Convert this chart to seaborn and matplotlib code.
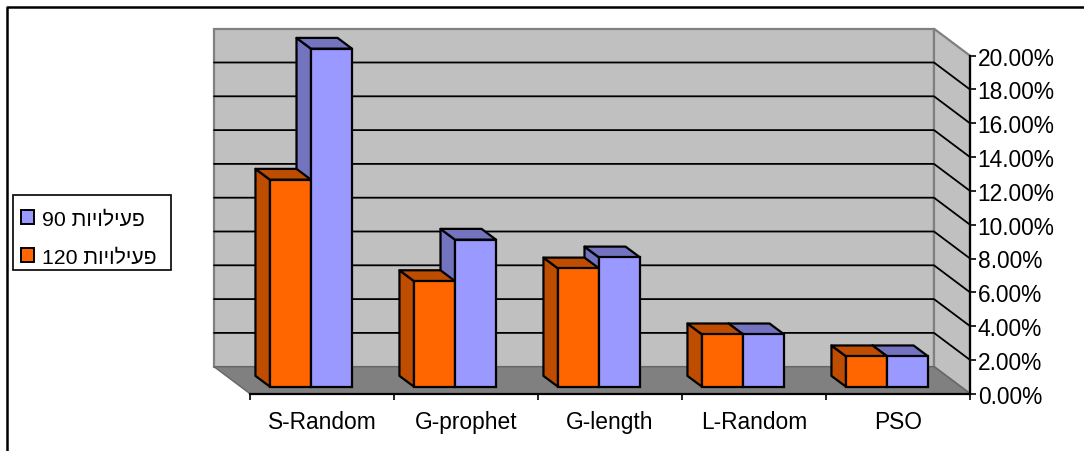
import matplotlib
matplotlib.use("Agg")
import matplotlib.pyplot as plt
from matplotlib.lines import Line2D
from matplotlib.patches import Patch, Polygon, Rectangle
from matplotlib.ticker import FixedLocator, PercentFormatter
import numpy as np
import pandas as pd
import seaborn as sns

# Chart data
algorithms = ["S-Random", "G-prophet", "G-length", "L-Random", "PSO"]
activities_120 = [12.25, 6.25, 7.0, 3.1, 1.8]
activities_90 = [20.0, 8.7, 7.65, 3.1, 1.8]
y_ticks = list(range(0, 21, 2))

# Matplotlib shapes text left to right, so the Hebrew word is stored reversed
word = "פעילויות"[::-1]
label_120 = f"120 {word}"
label_90 = f"90 {word}"

ORANGE, ORANGE_DARK = "#ff6600", "#bf4d00"
BLUE, BLUE_DARK = "#9999ff", "#7373bf"
WALL, FLOOR, EDGE = "#c0c0c0", "#808080", "#000000"

W, H = 1084, 452
sns.set_theme(style="white")
plt.rcParams["font.family"] = ["Liberation Sans", "DejaVu Sans"]
fig = plt.figure(figsize=(W / 100, H / 100), dpi=100, facecolor="white")


def axes_box(left, right, bottom, top):
    return [left / W, 1 - bottom / H, (right - left) / W, (bottom - top) / H]


# The front plane of the box holds the axes; the bar plane sits a little behind it
front = fig.add_axes(axes_box(250, 970, 394.7, 56.7))
bars = fig.add_axes(axes_box(239, 959, 387.7, 49.7))

PX_X = 144.0      # pixels per category
PX_Y = 16.9       # pixels per percentage point
BACK_X, BACK_Y = 36 / PX_X, 27 / PX_Y      # box depth in data units
DEPTH_X, DEPTH_Y = 14.5 / PX_X, 10.8 / PX_Y  # bar depth in data units

for ax in (front, bars):
    ax.set_xlim(-0.5, 4.5)
    ax.set_ylim(0, 20)

# Walls and floor of the box
x0, x1 = -0.5, 4.5
ymax = y_ticks[-1]
front.add_patch(Polygon([(x0 - BACK_X, BACK_Y), (x1 - BACK_X, BACK_Y),
                         (x1 - BACK_X, ymax + BACK_Y), (x0 - BACK_X, ymax + BACK_Y)],
                        closed=True, fc=WALL, ec=FLOOR, lw=1.6, clip_on=False, zorder=1))
front.add_patch(Polygon([(x1 - BACK_X, BACK_Y), (x1, 0), (x1, ymax),
                         (x1 - BACK_X, ymax + BACK_Y)],
                        closed=True, fc=WALL, ec=FLOOR, lw=1.6, clip_on=False, zorder=1))
front.add_patch(Polygon([(x0 - BACK_X, BACK_Y), (x1 - BACK_X, BACK_Y), (x1, 0), (x0, 0)],
                        closed=True, fc=FLOOR, ec="#666666", lw=1.0, clip_on=False, zorder=1.2))

# Gridlines run along the back wall and down the right wall
for t in y_ticks[1:-1]:
    front.add_line(Line2D([x0 - BACK_X, x1 - BACK_X, x1],
                          [t + BACK_Y, t + BACK_Y, t],
                          color="black", lw=1.3, clip_on=False, zorder=1.5))

# Front faces of the bars
table = pd.DataFrame({
    "algorithm": algorithms * 2,
    "value": activities_120 + activities_90,
    "series": [label_120] * len(algorithms) + [label_90] * len(algorithms),
})
sns.barplot(data=table, x="algorithm", y="value", hue="series",
            hue_order=[label_120, label_90],
            palette={label_120: ORANGE, label_90: BLUE},
            width=0.57, gap=0, saturation=1, edgecolor=EDGE, linewidth=1.6,
            legend=False, ax=bars)
bars.set_xlim(-0.5, 4.5)
bars.set_ylim(0, 20)
bars.patch.set_alpha(0)
bars.axis("off")

# Side and top faces, built from each drawn bar
n = len(algorithms)
for i, rect in enumerate(bars.patches[:2 * n]):
    is_orange = i < n
    side_c = ORANGE_DARK if is_orange else BLUE_DARK
    xl, w, h = rect.get_x(), rect.get_width(), rect.get_height()
    base_z = 3 if is_orange else 2
    rect.set_clip_on(False)
    rect.set_zorder(4)
    side = [(xl, 0), (xl - DEPTH_X, DEPTH_Y), (xl - DEPTH_X, h + DEPTH_Y), (xl, h)]
    top = [(xl, h), (xl - DEPTH_X, h + DEPTH_Y), (xl + w - DEPTH_X, h + DEPTH_Y), (xl + w, h)]
    for pts in (side, top):
        bars.add_patch(Polygon(pts, closed=True, fc=side_c, ec=EDGE, lw=1.6,
                               joinstyle="round", clip_on=False, zorder=base_z))

# Axes of the front plane
for name, spine in front.spines.items():
    spine.set_visible(name in ("bottom", "right"))
    spine.set_color("black")
    spine.set_linewidth(1.6)
    spine.set_zorder(2)
front.patch.set_alpha(0)
front.set_xticks(np.arange(n))
front.set_xticklabels(algorithms)
front.xaxis.set_minor_locator(FixedLocator(np.arange(-0.5, 5.0, 1.0)))
front.tick_params(axis="x", which="major", length=0, labelsize=16.4, pad=11.5,
                  labelcolor="black")
front.tick_params(axis="x", which="minor", length=4, width=1.2, color="black",
                  bottom=True)
front.yaxis.tick_right()
front.set_yticks(y_ticks)
front.yaxis.set_major_formatter(PercentFormatter(decimals=2))
front.tick_params(axis="y", length=4, width=1.2, color="black", labelsize=16.4,
                  pad=1.5, labelcolor="black", right=True, left=False)
front.set_xlabel("")
front.set_ylabel("")

# Legend: a plain box with the entries placed inside it
fig.add_artist(Rectangle((13 / W, 1 - 271 / H), 158 / W, 75 / H,
                         transform=fig.transFigure, fc="white", ec="black", lw=1.2))
handles = [Patch(fc=BLUE, ec=EDGE, lw=1.4, label=label_90),
           Patch(fc=ORANGE, ec=EDGE, lw=1.4, label=label_120)]
fig.legend(handles=handles, loc="upper left",
           bbox_to_anchor=(21 / W, 1 - 210.5 / H), bbox_transform=fig.transFigure,
           fontsize=15.3, frameon=False, handlelength=0.61, handleheight=0.61,
           handletextpad=0.38, labelspacing=0.9, borderpad=0, borderaxespad=0,
           labelcolor="black")

# Chart frame, cut off on the right and at the bottom
fig.add_artist(Line2D([7 / W, 7 / W, 1], [0, 1 - 8 / H, 1 - 8 / H],
                      transform=fig.transFigure, color="black", lw=1.8))

fig.savefig("out.png", dpi=100, facecolor="white")
